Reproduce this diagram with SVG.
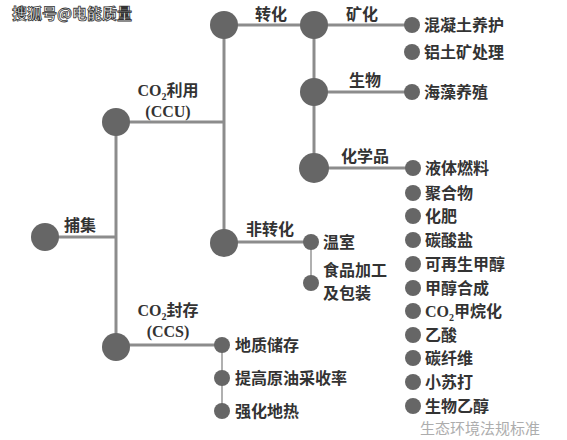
<svg xmlns="http://www.w3.org/2000/svg" width="567" height="440" viewBox="0 0 567 440">
<style>
.t{font-family:"Noto Sans CJK SC","Noto Sans",sans-serif;font-size:16px;font-weight:bold;fill:#333}
.lat{font-family:"Liberation Serif","Noto Sans CJK SC",serif;font-size:16px;font-weight:bold;fill:#333}
.big{fill:#666}
.dot{fill:#666}
.thick{stroke:#8c8c8c;stroke-width:3;fill:none}
.thin{stroke:#b0b0b0;stroke-width:2;fill:none}
.wm{font-family:"Noto Sans CJK SC",sans-serif;font-size:15px;font-weight:bold;fill:#fff;stroke:#333;stroke-width:0.8}
.wm2{font-family:"Noto Sans CJK SC",sans-serif;font-size:15px;fill:#999;opacity:0.8}
</style>
<rect width="567" height="440" fill="#fff"/>
<g id="connectors">
<line class="thick" x1="45" y1="237" x2="116" y2="237"/>
<line class="thick" x1="116" y1="122" x2="116" y2="347"/>
<line class="thick" x1="116" y1="122" x2="224" y2="122"/>
<line class="thick" x1="224" y1="25" x2="224" y2="243"/>
<line class="thick" x1="224" y1="25" x2="314" y2="25"/>
<line class="thick" x1="314" y1="25" x2="314" y2="168"/>
<line class="thick" x1="314" y1="25" x2="412" y2="25"/>
<line class="thick" x1="314" y1="92" x2="412" y2="92"/>
<line class="thick" x1="314" y1="168" x2="413" y2="168"/>
<line class="thick" x1="224" y1="242" x2="311" y2="242"/>
<line class="thin" x1="311" y1="242" x2="311" y2="283"/>
<line class="thick" x1="116" y1="345" x2="222" y2="345"/>
<line class="thin" x1="222" y1="345" x2="222" y2="410"/>
</g>
<g id="node-capture"><circle class="big" cx="45" cy="237" r="14"/><text class="t" x="80" y="231" text-anchor="middle">捕集</text></g>
<g id="node-ccu"><circle class="big" cx="116" cy="122" r="14"/><text class="lat" x="168" y="96" text-anchor="middle">CO<tspan font-size="10" dy="4">2</tspan><tspan dy="-4" class="t">利用</tspan></text><text class="lat" x="168" y="117" text-anchor="middle">(CCU)</text></g>
<g id="node-conv"><circle class="big" cx="224" cy="25" r="14"/><text class="t" x="271" y="20" text-anchor="middle">转化</text></g>
<g id="node-min"><circle class="big" cx="314" cy="25" r="14"/><text class="t" x="362" y="20" text-anchor="middle">矿化</text></g>
<g id="node-bio"><circle class="big" cx="314" cy="92" r="14"/><text class="t" x="365" y="86" text-anchor="middle">生物</text></g>
<g id="node-chem"><circle class="big" cx="314" cy="168" r="15"/><text class="t" x="365" y="162" text-anchor="middle">化学品</text></g>
<g id="node-nonconv"><circle class="big" cx="224" cy="243" r="14"/><text class="t" x="270" y="235" text-anchor="middle">非转化</text></g>
<g id="node-ccs"><circle class="big" cx="116" cy="347" r="14"/><text class="lat" x="168" y="316" text-anchor="middle">CO<tspan font-size="10" dy="4">2</tspan><tspan dy="-4" class="t">封存</tspan></text><text class="lat" x="168" y="337" text-anchor="middle">(CCS)</text></g>

<g id="leaf-1"><circle class="dot" cx="412" cy="25" r="8"/><text class="t" x="424" y="31">混凝土养护</text></g>
<g id="leaf-2"><circle class="dot" cx="412" cy="52" r="8"/><text class="t" x="424" y="58">铝土矿处理</text></g>
<g id="leaf-3"><circle class="dot" cx="412" cy="92" r="8"/><text class="t" x="424" y="98">海藻养殖</text></g>
<g id="leaf-4"><circle class="dot" cx="413" cy="168" r="8"/><text class="t" x="425" y="174">液体燃料</text></g>
<g id="leaf-5"><circle class="dot" cx="413" cy="193" r="8"/><text class="t" x="425" y="199">聚合物</text></g>
<g id="leaf-6"><circle class="dot" cx="413" cy="216" r="8"/><text class="t" x="425" y="222">化肥</text></g>
<g id="leaf-7"><circle class="dot" cx="413" cy="240" r="8"/><text class="t" x="425" y="246">碳酸盐</text></g>
<g id="leaf-8"><circle class="dot" cx="413" cy="264" r="8"/><text class="t" x="425" y="270">可再生甲醇</text></g>
<g id="leaf-9"><circle class="dot" cx="413" cy="288" r="8"/><text class="t" x="425" y="294">甲醇合成</text></g>
<g id="leaf-10"><circle class="dot" cx="413" cy="311" r="8"/><text class="lat" x="425" y="317">CO<tspan font-size="10" dy="4">2</tspan><tspan dy="-4" class="t">甲烷化</tspan></text></g>
<g id="leaf-11"><circle class="dot" cx="413" cy="335" r="8"/><text class="t" x="425" y="341">乙酸</text></g>
<g id="leaf-12"><circle class="dot" cx="413" cy="358" r="8"/><text class="t" x="425" y="364">碳纤维</text></g>
<g id="leaf-13"><circle class="dot" cx="413" cy="382" r="8"/><text class="t" x="425" y="388">小苏打</text></g>
<g id="leaf-14"><circle class="dot" cx="413" cy="406" r="8"/><text class="t" x="425" y="412">生物乙醇</text></g>
<g id="leaf-15"><circle class="dot" cx="311" cy="242" r="8"/><text class="t" x="323" y="248">温室</text></g>
<g id="leaf-16"><circle class="dot" cx="311" cy="283" r="8"/><text class="t" x="323" y="276">食品加工</text><text class="t" x="323" y="299">及包装</text></g>
<g id="leaf-17"><circle class="dot" cx="222" cy="345" r="8"/><text class="t" x="235" y="351">地质储存</text></g>
<g id="leaf-18"><circle class="dot" cx="222" cy="378" r="8"/><text class="t" x="235" y="384">提高原油采收率</text></g>
<g id="leaf-19"><circle class="dot" cx="222" cy="411" r="8"/><text class="t" x="235" y="417">强化地热</text></g>

<text class="wm" x="12" y="19">搜狐号@电能质量</text>
<text class="wm2" x="420" y="434">生态环境法规标准</text>
</svg>
